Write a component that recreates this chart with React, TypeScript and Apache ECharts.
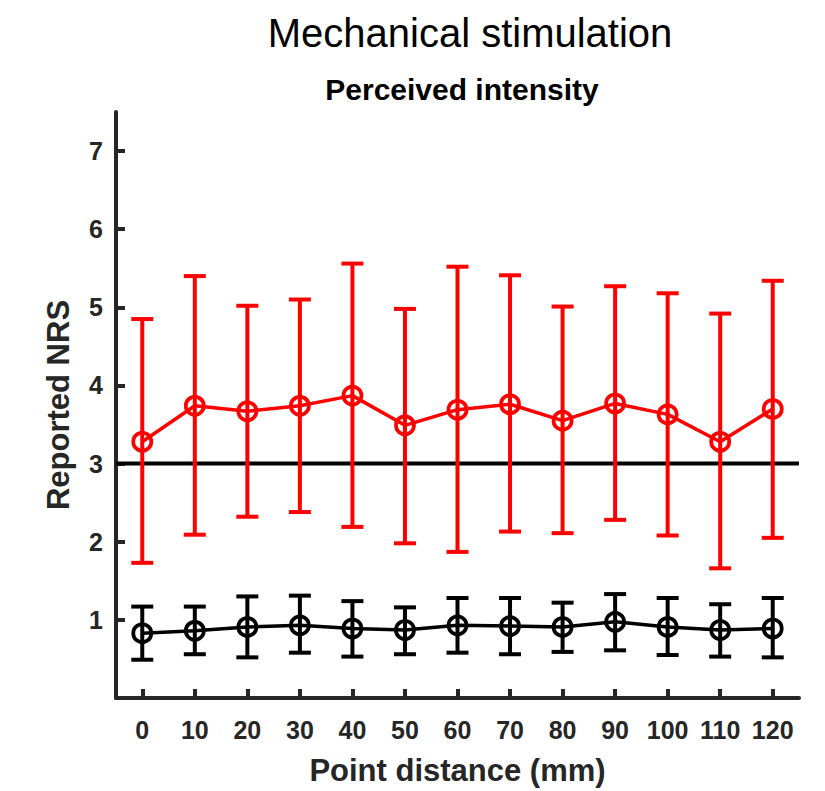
import React, { useEffect, useRef } from "react";
import * as echarts from "echarts";

const distances = [0, 10, 20, 30, 40, 50, 60, 70, 80, 90, 100, 110, 120];
const redMean = [3.28, 3.74, 3.67, 3.74, 3.87, 3.49, 3.69, 3.76, 3.55, 3.77, 3.63, 3.28, 3.70];
const redUpper = [4.85, 5.40, 5.02, 5.10, 5.56, 4.98, 5.52, 5.41, 5.01, 5.27, 5.18, 4.92, 5.34];
const redLower = [1.73, 2.09, 2.32, 2.38, 2.19, 1.98, 1.87, 2.13, 2.11, 2.28, 2.08, 1.66, 2.05];
const blackMean = [0.83, 0.86, 0.91, 0.93, 0.89, 0.87, 0.93, 0.92, 0.91, 0.975, 0.91, 0.87, 0.89];
const blackUpper = [1.17, 1.17, 1.30, 1.31, 1.24, 1.16, 1.28, 1.28, 1.22, 1.33, 1.28, 1.20, 1.28];
const blackLower = [0.49, 0.56, 0.52, 0.58, 0.53, 0.56, 0.58, 0.56, 0.59, 0.61, 0.55, 0.53, 0.52];
const yTicks = [1, 2, 3, 4, 5, 6, 7];
const referenceLevel = 3;

const AXIS_COLOR = "#262626";
const FONT = "'Liberation Sans', Arial, Helvetica, sans-serif";

function errorBarSeries(name: string, lower: number[], upper: number[], color: string) {
  const data = distances.map((d, i) => [d, lower[i], upper[i]]);
  return {
    name,
    type: "custom",
    z: 3,
    data,
    renderItem: (params: any, api: any) => {
      const x = api.value(0);
      const lo = api.coord([x, api.value(1)]);
      const hi = api.coord([x, api.value(2)]);
      const half = 11;
      const style = { stroke: color, lineWidth: 4, fill: "none" };
      return {
        type: "group",
        children: [
          { type: "line", shape: { x1: lo[0], y1: lo[1], x2: hi[0], y2: hi[1] }, style },
          { type: "line", shape: { x1: hi[0] - half, y1: hi[1], x2: hi[0] + half, y2: hi[1] }, style },
          { type: "line", shape: { x1: lo[0] - half, y1: lo[1], x2: lo[0] + half, y2: lo[1] }, style },
        ],
      };
    },
  };
}

function meanSeries(name: string, values: number[], color: string) {
  return {
    name,
    type: "line",
    z: 4,
    data: distances.map((d, i) => [d, values[i]]),
    symbol: "circle",
    symbolSize: 18,
    lineStyle: { color, width: 3.5 },
    itemStyle: { color: "transparent", borderColor: color, borderWidth: 3.8 },
  };
}

export default function App() {
  const ref = useRef<HTMLDivElement>(null);
  useEffect(() => {
    if (!ref.current) return;
    const chart = echarts.init(ref.current, null, { renderer: "svg" });
    chart.setOption({
      animation: false,
      backgroundColor: "#ffffff",
      title: [
        {
          text: "Mechanical stimulation",
          left: 465,
          top: 8,
          textAlign: "center",
          textStyle: { fontFamily: FONT, fontSize: 40, fontWeight: "normal", color: "#000" },
        },
        {
          text: "Perceived intensity",
          left: 457,
          top: 69,
          textAlign: "center",
          textStyle: { fontFamily: FONT, fontSize: 30, fontWeight: "bold", color: "#000" },
        },
      ],
      grid: { left: 116, right: 26, top: 112, bottom: 93, containLabel: false },
      xAxis: {
        type: "value",
        min: -5,
        max: 125,
        name: "Point distance (mm)",
        nameLocation: "middle",
        nameGap: 57,
        nameTextStyle: { fontFamily: FONT, fontSize: 31, fontWeight: "bold", color: AXIS_COLOR },
        axisLine: { show: true, onZero: false, lineStyle: { color: AXIS_COLOR, width: 4 } },
        axisTick: { show: true, inside: true, length: 9, lineStyle: { color: AXIS_COLOR, width: 4 }, customValues: distances },
        axisLabel: {
          customValues: distances,
          margin: 19,
          fontFamily: FONT,
          fontSize: 25,
          fontWeight: "bold",
          color: AXIS_COLOR,
        },
        splitLine: { show: false },
      },
      yAxis: {
        type: "value",
        min: 0,
        max: 7.5,
        name: "Reported NRS",
        nameLocation: "middle",
        nameGap: 42,
        nameTextStyle: { fontFamily: FONT, fontSize: 31, fontWeight: "bold", color: AXIS_COLOR },
        axisLine: { show: true, onZero: false, lineStyle: { color: AXIS_COLOR, width: 4 } },
        axisTick: { show: true, inside: true, length: 9, lineStyle: { color: AXIS_COLOR, width: 4 }, customValues: yTicks },
        axisLabel: {
          customValues: yTicks,
          margin: 13,
          fontFamily: FONT,
          fontSize: 25,
          fontWeight: "bold",
          color: AXIS_COLOR,
        },
        splitLine: { show: false },
      },
      series: [
        {
          name: "reference",
          type: "line",
          z: 1,
          data: [[-5, referenceLevel], [125, referenceLevel]],
          symbol: "none",
          lineStyle: { color: "#000000", width: 4 },
        },
        errorBarSeries("red-err", redLower, redUpper, "#ff0000"),
        meanSeries("red-mean", redMean, "#ff0000"),
        errorBarSeries("black-err", blackLower, blackUpper, "#000000"),
        meanSeries("black-mean", blackMean, "#000000"),
      ],
    });
    return () => chart.dispose();
  }, []);
  return <div ref={ref} style={{ width: 825, height: 791, position: "absolute", left: 0, top: 0 }} />;
}
